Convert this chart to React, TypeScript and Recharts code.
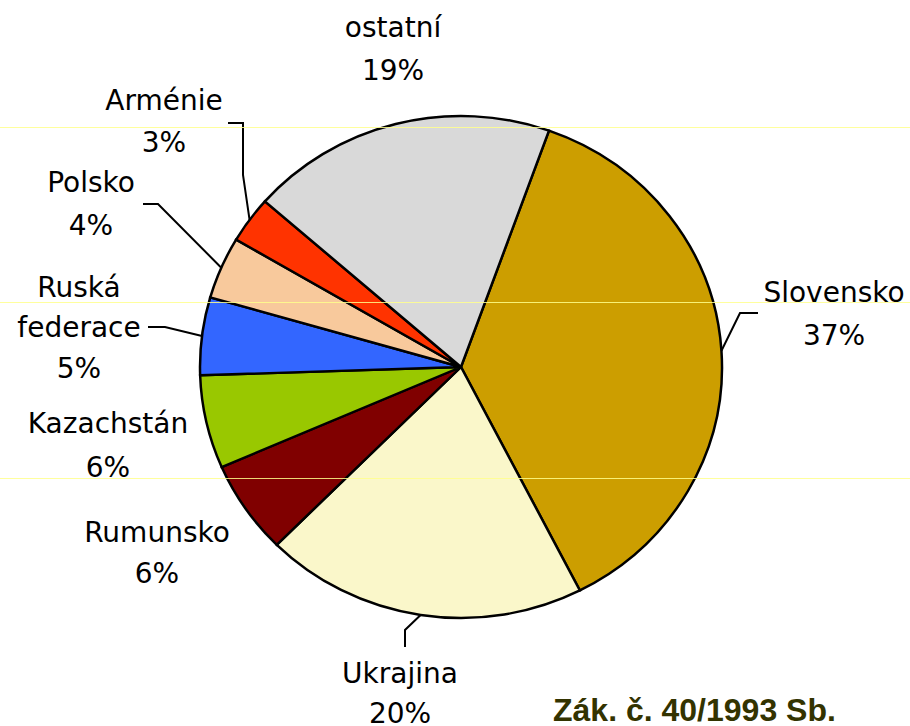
import React from 'react';
import { PieChart, Pie, Cell } from 'recharts';

const categories = ['Slovensko', 'Ukrajina', 'Rumunsko', 'Kazachstán', 'Ruská federace', 'Polsko', 'Arménie', 'ostatní'];
const shares = [37, 20, 6, 6, 5, 4, 3, 19];
const sliceColors = ['#CC9E00', '#FAF7CA', '#800000', '#99C800', '#3366FF', '#F8C99C', '#FF3300', '#D9D9D9'];
const labelLines: string[][] = [['Slovensko'], ['Ukrajina'], ['Rumunsko'], ['Kazachstán'], ['Ruská', 'federace'], ['Polsko'], ['Arménie'], ['ostatní']];
const footnote = 'Zák. č. 40/1993 Sb.';

// label layout relative to the pie centre (styling, not data)
const labelLayout: Record<string, { x: number; ys: number[]; leader?: number[][] }> = {
  'Slovensko': { x: 373, ys: [-65, -22], leader: [[279, -54], [297, -54]] },
  'Ukrajina': { x: -61, ys: [316, 356], leader: [[-56, 263], [-56, 280]] },
  'Rumunsko': { x: -304, ys: [175, 216] },
  'Kazachstán': { x: -353, ys: [66, 110] },
  'Ruská federace': { x: -382, ys: [-70, -30, 11], leader: [[-296, -40], [-313, -40]] },
  'Polsko': { x: -370, ys: [-175, -132], leader: [[-303, -163], [-318, -163]] },
  'Arménie': { x: -297, ys: [-257, -215], leader: [[-218, -192], [-218, -244], [-233, -244]] },
  'ostatní': { x: -68, ys: [-330, -287] },
};

const data = categories.map((name, i) => ({ name, value: shares[i], lines: labelLines[i] }));

const RAD = Math.PI / 180;
const CX = 461;
const CY = 367;
const R = 261;
const Y_SCALE = 251 / 261; // the original pie is slightly elliptical

const renderLabel = (props: any) => {
  const { cx, cy, midAngle, outerRadius, index } = props;
  const d = data[index];
  const lay = labelLayout[d.name];
  const sx = cx + outerRadius * Math.cos(-midAngle * RAD);
  const sy = cy + outerRadius * Y_SCALE * Math.sin(-midAngle * RAD);
  const texts = [...d.lines, `${d.value}%`];
  return (
    <g key={`lbl-${index}`}>
      {lay.leader && (
        <polyline
          points={[[sx, sy], ...lay.leader.map(([x, y]) => [cx + x, cy + y])].map((p) => p.join(',')).join(' ')}
          fill="none"
          stroke="#000"
          strokeWidth={2}
        />
      )}
      {texts.map((t, k) => (
        <text
          key={k}
          x={cx + lay.x}
          y={cy + lay.ys[k]}
          textAnchor="middle"
          fontFamily="DejaVu Sans"
          fontSize={28}
          fill="#000"
        >
          {t}
        </text>
      ))}
    </g>
  );
};

const yellowLines = [127, 302, 478];

export default function App() {
  return (
    <div style={{ position: 'absolute', left: 0, top: 0, width: 910, height: 726, background: '#fff', overflow: 'hidden' }}>
      <div
        style={{
          position: 'absolute',
          left: 0,
          top: 0,
          transform: `scaleY(${Y_SCALE})`,
          transformOrigin: `${CX}px ${CY}px`,
        }}
      >
        <PieChart width={910} height={726} margin={{ top: 0, right: 0, bottom: 0, left: 0 }}>
          <Pie
            data={data}
            dataKey="value"
            nameKey="name"
            cx={CX}
            cy={CY}
            outerRadius={R}
            startAngle={70.3}
            endAngle={-289.7}
            stroke="#000"
            strokeWidth={2.5}
            label={false}
            labelLine={false}
            isAnimationActive={false}
          >
            {data.map((d, i) => (
              <Cell key={d.name} fill={sliceColors[i]} />
            ))}
          </Pie>
        </PieChart>
      </div>
      <div style={{ position: 'absolute', left: 0, top: 0 }}>
        <PieChart width={910} height={726} margin={{ top: 0, right: 0, bottom: 0, left: 0 }}>
          <Pie
            data={data}
            dataKey="value"
            nameKey="name"
            cx={CX}
            cy={CY}
            outerRadius={R}
            startAngle={70.3}
            endAngle={-289.7}
            fill="none"
            fillOpacity={0}
            stroke="none"
            label={renderLabel}
            labelLine={false}
            isAnimationActive={false}
          />
        </PieChart>
      </div>
      <div
        style={{
          position: 'absolute',
          left: 553,
          top: 692,
          fontFamily: 'Liberation Sans',
          fontWeight: 'bold',
          fontSize: 32,
          lineHeight: '36px',
          color: '#333300',
          whiteSpace: 'nowrap',
        }}
      >
        {footnote}
      </div>
      {yellowLines.map((y) => (
        <div
          key={y}
          style={{ position: 'absolute', left: 0, top: y, width: 910, height: 1, background: 'rgba(255,255,140,0.85)' }}
        />
      ))}
    </div>
  );
}
